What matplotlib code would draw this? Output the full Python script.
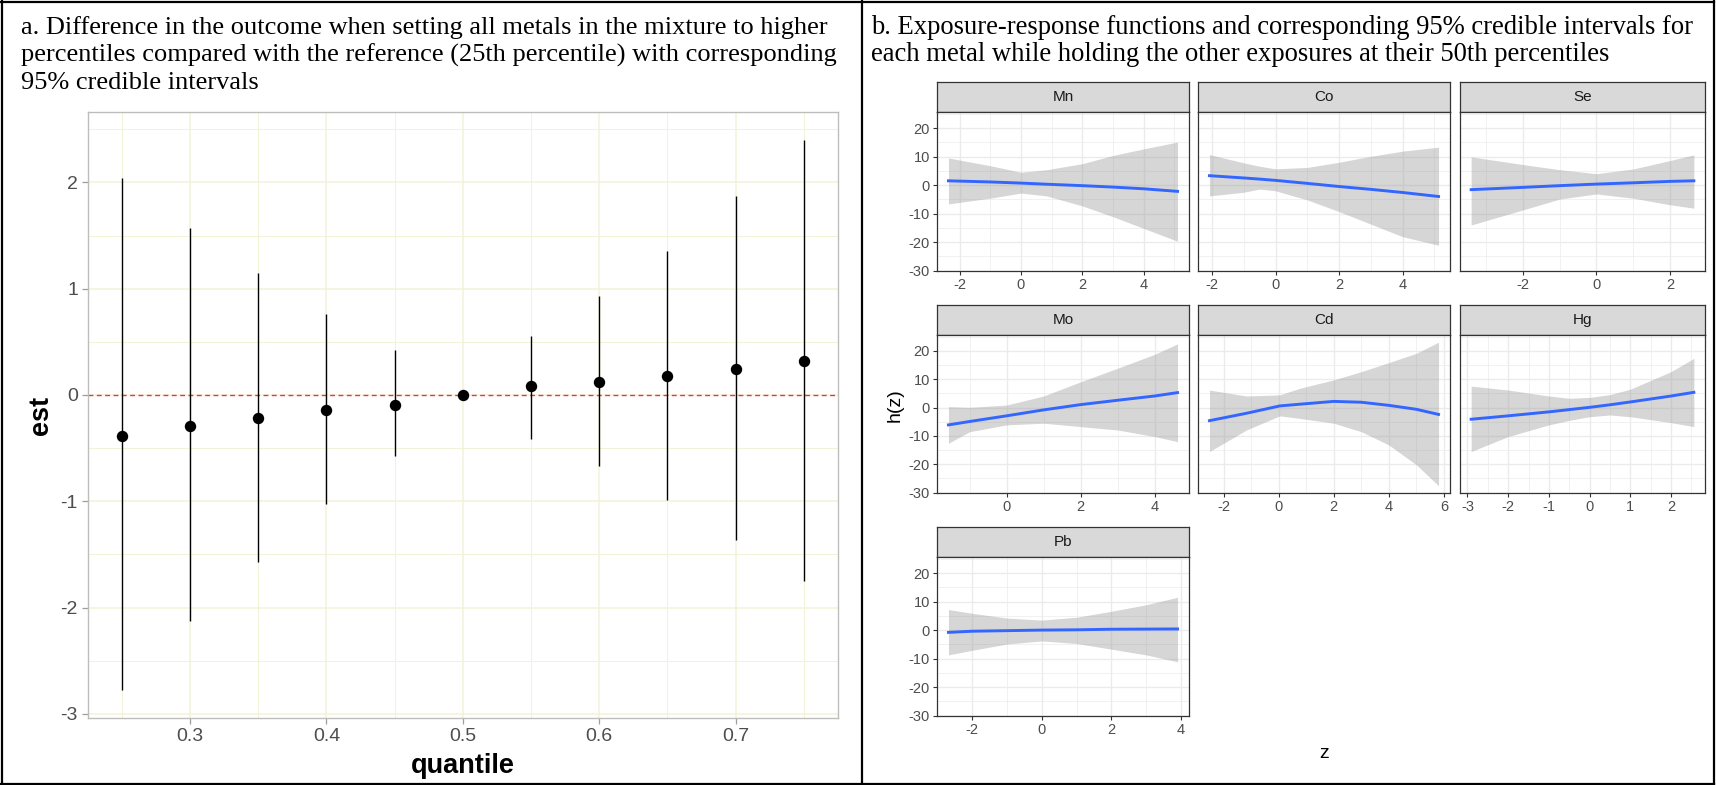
import matplotlib
matplotlib.use("Agg")
import matplotlib.pyplot as plt
from matplotlib.ticker import MultipleLocator, FixedLocator
from matplotlib.lines import Line2D

plt.rcParams["axes.unicode_minus"] = False

# ---------------- data: panel a ----------------
quantile = [0.25, 0.30, 0.35, 0.40, 0.45, 0.50, 0.55, 0.60, 0.65, 0.70, 0.75]
est = [-0.39, -0.29, -0.22, -0.14, -0.09, 0.00, 0.08, 0.12, 0.18, 0.245, 0.32]
est_lower = [-2.78, -2.13, -1.57, -1.03, -0.57, 0.00, -0.41, -0.67, -0.99, -1.36, -1.75]
est_upper = [2.04, 1.57, 1.15, 0.76, 0.42, 0.00, 0.55, 0.93, 1.35, 1.87, 2.40]

# ---------------- data: panel b (exposure-response) ----------------
mn_z = [-2.36, -1.0, 0.0, 0.84, 2.0, 3.0, 4.0, 5.1]
mn_est = [1.5, 1.1, 0.7, 0.3, -0.2, -0.7, -1.3, -2.2]
mn_lo = [-6.6, -4.6, -2.8, -3.8, -7.3, -11.1, -15.2, -19.7]
mn_hi = [9.5, 6.8, 4.5, 5.4, 7.5, 10.4, 12.7, 15.1]

co_z = [-2.08, -1.0, -0.5, 0.0, 1.0, 2.0, 3.0, 4.0, 5.13]
co_est = [3.3, 2.5, 2.1, 1.65, 0.6, -0.5, -1.5, -2.6, -4.0]
co_lo = [-3.8, -2.5, -1.4, -2.0, -5.2, -9.3, -13.7, -18.1, -21.1]
co_hi = [10.7, 7.8, 6.6, 5.7, 6.2, 8.0, 10.1, 11.9, 13.3]

se_z = [-3.41, -2.0, -1.0, 0.0, 1.0, 2.0, 2.65]
se_est = [-1.6, -0.8, -0.2, 0.35, 0.8, 1.3, 1.5]
se_lo = [-14.0, -8.7, -4.9, -3.1, -4.6, -6.9, -8.1]
se_hi = [9.9, 7.2, 5.4, 4.0, 5.65, 8.6, 10.6]

mo_z = [-1.57, -1.0, 0.0, 1.0, 2.0, 3.0, 4.0, 4.62]
mo_est = [-6.1, -4.9, -2.9, -0.8, 1.06, 2.6, 4.1, 5.3]
mo_lo = [-12.6, -8.5, -6.1, -5.5, -6.7, -7.9, -10.2, -12.0]
mo_hi = [0.35, 0.1, 0.9, 4.1, 9.1, 13.9, 18.8, 22.5]

cd_z = [-2.51, -1.17, 0.04, 0.76, 2.0, 3.0, 4.0, 5.0, 5.8]
cd_est = [-4.6, -2.0, 0.6, 1.2, 2.2, 1.9, 0.8, -0.6, -2.4]
cd_lo = [-15.5, -7.9, -2.9, -3.8, -5.5, -8.5, -13.2, -20.2, -27.6]
cd_hi = [6.2, 4.1, 4.5, 6.8, 9.8, 12.7, 15.9, 19.2, 23.1]

hg_z = [-2.91, -2.0, -1.0, -0.5, 0.0, 0.5, 1.0, 2.0, 2.56]
hg_est = [-4.1, -2.9, -1.5, -0.7, 0.1, 1.0, 2.0, 4.1, 5.4]
hg_lo = [-15.5, -10.2, -6.1, -4.5, -3.2, -2.6, -3.2, -5.3, -6.7]
hg_hi = [7.6, 6.2, 4.1, 3.3, 3.6, 4.6, 6.5, 12.7, 17.4]

pb_z = [-2.68, -2.0, -1.0, 0.0, 1.0, 2.0, 3.0, 3.9]
pb_est = [-0.8, -0.4, -0.2, 0.0, 0.1, 0.3, 0.35, 0.4]
pb_lo = [-8.7, -7.1, -4.9, -3.8, -4.7, -6.7, -8.7, -11.1]
pb_hi = [7.2, 5.9, 4.2, 3.5, 4.5, 6.6, 8.9, 11.5]

metals = ["Mn", "Co", "Se", "Mo", "Cd", "Hg", "Pb"]

title_a = ["a. Difference in the outcome when setting all metals in the mixture to higher",
           "percentiles compared with the reference (25th percentile) with corresponding",
           "95% credible intervals"]
title_b = ["b. Exposure-response functions and corresponding 95% credible intervals for",
           "each metal while holding the other exposures at their 50th percentiles"]

# ---------------- figure ----------------
W, H = 1716, 785
fig = plt.figure(figsize=(W / 100, H / 100), dpi=100)
fig.patch.set_facecolor("white")


def px_rect(x0, y0, x1, y1):
    return [x0 / W, 1 - y1 / H, (x1 - x0) / W, (y1 - y0) / H]


def expand(lo, hi, f=0.05):
    w = hi - lo
    return lo - f * w, hi + f * w


SERIF = "Liberation Serif"
SANS = "Liberation Sans"

# table borders
for (x0, y0, x1, y1) in [(1, 1.5, 1714, 1.5), (1, 783.5, 1714, 783.5), (1.5, 1, 1.5, 784),
                         (862, 1, 862, 784), (1714, 1, 1714, 784)]:
    fig.add_artist(Line2D([x0 / W, x1 / W], [1 - y0 / H, 1 - y1 / H], color="black",
                          lw=1.6, transform=fig.transFigure))

# titles
for i, line in enumerate(title_a):
    fig.text(21 / W, 1 - (34 + 27.4 * i) / H, line, family=SERIF, fontsize=19,
             va="baseline", ha="left", color="black")
for i, line in enumerate(title_b):
    fig.text(871 / W, 1 - (34 + 27.4 * i) / H, line, family=SERIF, fontsize=19.2,
             va="baseline", ha="left", color="black")

# ---------------- panel a ----------------
axa = fig.add_axes(px_rect(87.7, 112.3, 838, 718))
grid_col = "#F2F2D8"
xl = expand(min(quantile), max(quantile))
yl = expand(min(est_lower), max(est_upper))
axa.set_xlim(*xl)
axa.set_ylim(*yl)
axa.xaxis.set_major_locator(FixedLocator([0.3, 0.4, 0.5, 0.6, 0.7]))
axa.xaxis.set_minor_locator(FixedLocator([0.25, 0.35, 0.45, 0.55, 0.65, 0.75]))
axa.yaxis.set_major_locator(FixedLocator([-3, -2, -1, 0, 1, 2]))
axa.yaxis.set_minor_locator(FixedLocator([-2.5, -1.5, -0.5, 0.5, 1.5, 2.5]))
axa.grid(which="major", color=grid_col, lw=1.1)
axa.grid(which="minor", color=grid_col, lw=0.7)
axa.set_axisbelow(True)
axa.axhline(0, color="#E03A3A", lw=1.0, ls=(0, (3.5, 2.5)), zorder=2)
axa.vlines(quantile, est_lower, est_upper, color="black", lw=1.0, zorder=3)
axa.plot(quantile, est, "o", color="black", ms=7.2, zorder=4)
for s in axa.spines.values():
    s.set_color("#BDBDBD")
    s.set_linewidth(1.0)
axa.tick_params(which="major", direction="out", length=4, width=0.9, color="#9E9E9E",
                labelsize=14, labelcolor="#4D4D4D", pad=3)
axa.tick_params(which="minor", length=0)
axa.set_xticklabels(["0.3", "0.4", "0.5", "0.6", "0.7"], family=SANS)
axa.set_yticklabels(["-3", "-2", "-1", "0", "1", "2"], family=SANS)
fig.text(41 / W, 1 - 415 / H, "est", rotation=90, family=SANS, fontweight="bold",
         fontsize=19.5, ha="center", va="center")
fig.text(463 / W, 1 - 766 / H, "quantile", family=SANS, fontweight="bold",
         fontsize=19.5, ha="center", va="center")

# ---------------- panel b ----------------
panels = {
    "Mn": (mn_z, mn_est, mn_lo, mn_hi, 0, 0, 2),
    "Co": (co_z, co_est, co_lo, co_hi, 0, 1, 2),
    "Se": (se_z, se_est, se_lo, se_hi, 0, 2, 2),
    "Mo": (mo_z, mo_est, mo_lo, mo_hi, 1, 0, 2),
    "Cd": (cd_z, cd_est, cd_lo, cd_hi, 1, 1, 2),
    "Hg": (hg_z, hg_est, hg_lo, hg_hi, 1, 2, 1),
    "Pb": (pb_z, pb_est, pb_lo, pb_hi, 2, 0, 2),
}
rows = [(82, 112, 271), (305, 335, 493), (527, 557, 716)]
cols = [(937, 1189), (1198, 1450), (1460, 1705)]

all_lo = min(min(p[2]) for p in panels.values())
all_hi = max(max(p[3]) for p in panels.values())
ylim_b = expand(all_lo, all_hi)

for name in metals:
    z, e, lo, hi, r, c, step = panels[name]
    s0, p0, p1 = rows[r]
    x0, x1 = cols[c]
    # strip
    axs = fig.add_axes(px_rect(x0, s0, x1, p0))
    axs.set_facecolor("#D9D9D9")
    axs.set_xticks([])
    axs.set_yticks([])
    for s in axs.spines.values():
        s.set_color("#333333")
        s.set_linewidth(0.9)
    axs.text(0.5, 0.5, name, transform=axs.transAxes, ha="center", va="center",
             family=SANS, fontsize=11, color="#1A1A1A")
    # panel
    ax = fig.add_axes(px_rect(x0, p0, x1, p1))
    ax.set_xlim(*expand(min(z), max(z)))
    ax.set_ylim(*ylim_b)
    ax.xaxis.set_major_locator(MultipleLocator(step))
    ax.xaxis.set_minor_locator(MultipleLocator(step / 2))
    ax.yaxis.set_major_locator(MultipleLocator(10))
    ax.yaxis.set_minor_locator(MultipleLocator(5))
    ax.grid(which="major", color="#EBEBEB", lw=1.0)
    ax.grid(which="minor", color="#EBEBEB", lw=0.5)
    ax.set_axisbelow(True)
    ax.fill_between(z, lo, hi, color="#999999", alpha=0.4, lw=0, zorder=2)
    ax.plot(z, e, color="#3366FF", lw=2.1, zorder=3)
    for s in ax.spines.values():
        s.set_color("#333333")
        s.set_linewidth(0.9)
    ax.tick_params(which="major", direction="out", length=3, width=0.8, color="#333333",
                   labelsize=10.5, labelcolor="#4D4D4D", pad=2)
    ax.tick_params(which="minor", length=0)
    if c != 0:
        ax.tick_params(axis="y", which="both", left=False, labelleft=False)
    for lab in ax.get_xticklabels() + ax.get_yticklabels():
        lab.set_family(SANS)

fig.text(895 / W, 1 - 405 / H, "h(z)", rotation=90, family=SANS, fontsize=14,
         ha="center", va="center", color="black")
fig.text(1324 / W, 1 - 753 / H, "z", family=SANS, fontsize=14, ha="center",
         va="center", color="black")

fig.savefig("out.png", dpi=100, facecolor="white")
